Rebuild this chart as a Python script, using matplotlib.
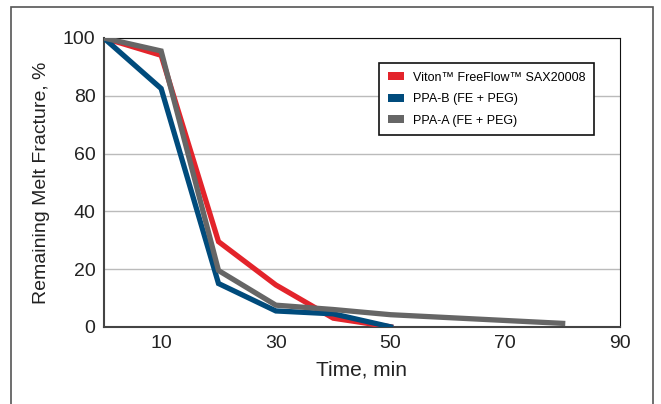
import matplotlib.pyplot as plt
from matplotlib.patches import Rectangle, Patch

# data
time_red = [0, 10, 20, 30, 40, 50]
viton = [100, 94, 29.5, 14.5, 3, 0]

time_blue = [0, 10, 20, 30, 40, 50]
ppa_b = [100, 82.5, 15, 5.5, 4.5, 0]

time_gray = [0, 10, 20, 30, 40, 50, 80]
ppa_a = [100, 95.5, 19.5, 7.5, 6, 4.2, 1.2]

labels = ['Viton\u2122 FreeFlow\u2122 SAX20008', 'PPA-B (FE + PEG)', 'PPA-A (FE + PEG)']
colors = ['#e3242b', '#004b7c', '#666666']

xticks = [10, 30, 50, 70, 90]
yticks = [0, 20, 40, 60, 80, 100]

plt.rcParams['font.family'] = ['Liberation Sans', 'DejaVu Sans']

fig = plt.figure(figsize=(6.61, 4.04), dpi=100)
ax = fig.add_axes([0.157, 0.191, 0.781, 0.715])

# outer frame
fig.patches.append(Rectangle((0.016, -0.05), 0.972, 1.032, transform=fig.transFigure,
                             fill=False, edgecolor='#555555', linewidth=1.2))

ax.plot(time_red, viton, color=colors[0], linewidth=3.8, solid_joinstyle='miter', zorder=3)
ax.plot(time_blue, ppa_b, color=colors[1], linewidth=3.8, solid_joinstyle='miter', zorder=4)
ax.plot(time_gray, ppa_a, color=colors[2], linewidth=3.8, solid_joinstyle='miter', zorder=5)

ax.set_xlim(0, 90)
ax.set_ylim(0, 100)
ax.set_xticks(xticks)
ax.set_yticks(yticks)
ax.tick_params(axis='both', length=0, labelsize=14, colors='#222222', pad=6)
ax.grid(axis='y', color='#bbbbbb', linewidth=1)
ax.set_axisbelow(True)

for side in ['top', 'right']:
    ax.spines[side].set_color('#111111')
for side in ['left', 'bottom']:
    ax.spines[side].set_color('#444444')
    ax.spines[side].set_linewidth(1.5)

ax.set_xlabel('Time, min', fontsize=15, color='#222222', labelpad=6)
ax.set_ylabel('Remaining Melt Fracture, %', fontsize=14, color='#222222', labelpad=9)

handles = [Patch(facecolor=c, edgecolor='none') for c in colors]
leg = ax.legend(handles, labels, loc='upper right', bbox_to_anchor=(0.962, 0.935),
                fontsize=9, fancybox=False, framealpha=1, edgecolor='#111111',
                handlelength=1.3, handleheight=0.6, handletextpad=0.7, labelspacing=0.75,
                borderpad=0.7)
leg.get_frame().set_linewidth(1.2)

plt.savefig('out.png', dpi=100)
